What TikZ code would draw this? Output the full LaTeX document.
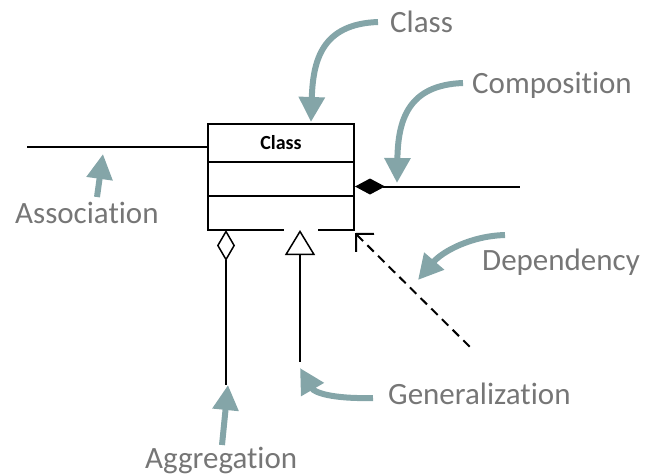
\documentclass[tikz,border=0pt]{standalone}
\usepackage{fontspec}
\setmainfont{Carlito}[Ligatures=NoCommon]
\usetikzlibrary{arrows.meta}
\definecolor{callcol}{RGB}{132,165,168}
\definecolor{txtcol}{RGB}{118,118,118}

\begin{document}
\begin{tikzpicture}[x=1pt,y=-1pt,
  callout/.style={color=callcol,line width=6pt,-{Triangle[width=25pt,length=25pt]}},
  lbl/.style={anchor=base west,inner sep=0pt,text=txtcol,font=\fontsize{31}{36}\selectfont},
  uml/.style={line width=1.5pt}]
  \useasboundingbox (0,0) rectangle (646,475);
  % the class box
  \draw [uml,fill=white] (208,124) rectangle (354,230);
  \draw [uml] (208,162) -- (354,162);
  \draw [uml] (208,196) -- (354,196);
  \draw [white,line width=2pt] (284,230) -- (318,230);
  \node (title) at (281,149) [anchor=base,inner sep=0pt,font=\fontsize{20}{22}\selectfont\bfseries] {Class};
  \coordinate (boxtop) at (311,124);
  % relations
  \coordinate (assocL) at (27,147);
  \coordinate (assocR) at (208,147);
  \draw [uml] (assocL) -- (assocR);
  \coordinate (compL) at (355,186.5);
  \coordinate (compR) at (520,186.5);
  \draw [line width=2pt,{Diamond[length=30pt,width=16pt]}-] (compL) -- (compR);
  \coordinate (aggT) at (226,230);
  \coordinate (aggB) at (226,385);
  \draw [uml,{Diamond[open,length=31pt,width=18pt]}-] (aggT) -- (aggB);
  \coordinate (genT) at (300,230);
  \coordinate (genB) at (300,362);
  \draw [uml,{Triangle[open,length=25pt,width=30pt]}-] (genT) -- (genB);
  \coordinate (depT) at (355,233);
  \coordinate (depB) at (470,347);
  \draw [line width=2pt,dash pattern=on 9pt off 6pt,{Straight Barb[length=12.7pt,width=25.5pt]}-] (depT) -- (depB);
  % labels
  \node (lclass) at (390,32) [lbl] {Class};
  \node (lcomp) at (472,93) [lbl] {Composition};
  \node (ldep) at (482,270) [lbl] {Dependency};
  \node (lgen) at (388,404) [lbl] {Generalization};
  \node (lagg) at (145,468) [lbl] {Aggregation};
  \node (lassoc) at (15,223) [lbl] {Association};
  % pointers
  \coordinate (pclass) at (378,22);
  \coordinate (pcomp) at (463,83);
  \coordinate (pdep) at (505,235);
  \coordinate (pgen) at (373,398);
  \coordinate (pagg) at (222,445);
  \coordinate (passoc) at (97,197);
  \coordinate (tclass) at (311,122);
  \coordinate (tcomp) at (397,183);
  \coordinate (tdep) at (418,280);
  \coordinate (tgen) at (300,368);
  \coordinate (tagg) at (228,385);
  \coordinate (tassoc) at (103,154);
  \draw [callout] (pclass) .. controls (322,24) and (313,60) .. (tclass);
  \draw [callout] (pcomp) .. controls (408,85) and (398,120) .. (tcomp);
  \draw [callout] (pdep) .. controls (470,236) and (442,252) .. (tdep);
  \draw [callout] (pgen) .. controls (330,399) and (314,392) .. (tgen);
  \draw [callout] (pagg) -- (tagg);
  \draw [callout] (passoc) -- (tassoc);
\end{tikzpicture}
\end{document}
